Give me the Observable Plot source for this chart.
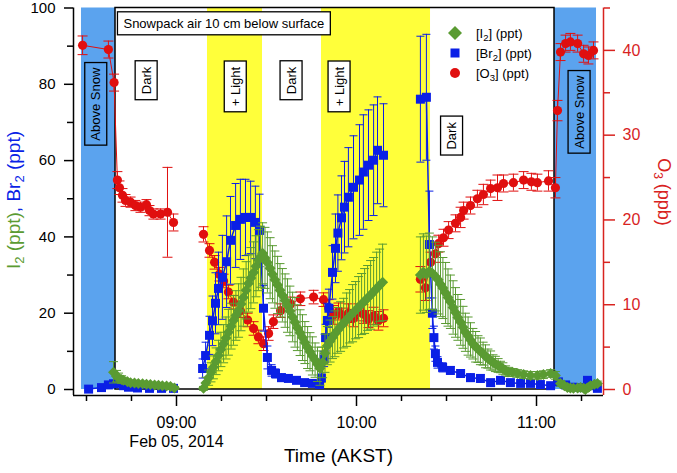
<!DOCTYPE html>
<html>
<head>
<meta charset="utf-8">
<script src="https://cdn.jsdelivr.net/npm/d3@7"></script>
<script src="https://cdn.jsdelivr.net/npm/@observablehq/plot@0.6"></script>
<style>
html,body{margin:0;padding:0;background:#fff;overflow:hidden;}
#chart svg{display:block;}
</style>
</head>
<body>
<div id="chart"></div>
<script>
// ---------- DATA (time = minutes after 09:00 AKST, Feb 05 2014; null = gap) ----------
const o3Min = [-31.3,-22.7,-20.8,-19.7,-19.0,-18.0,-17.0,-15.3,-13.7,-12.0,-10.0,-9.0,-7.7,-5.3,-3.0,-1.0, 4,
  9.0,11.0,12.7,14.3,15.7,17.3,19.0,21.3,23.7,25.7,27.3,29.0,30.7,32.3,34.7,38.0,41.3,45.7,49.0,
  50.7,52.3,54.0,55.7,57.3,59.0,60.7,62.3,64.0,65.7,67.3,69.0, 75,
  81.3,83.0,84.7,86.3,87.3,89.0,90.7,93.0,94.7,95.7,98.0,100.3,102.3,104.7,107.0,109.0,112.3,115.7,118.3,120.3,124.0,126.3,
  127.0,128.0,129.7,131.3,133.7,135.7,137.3,139.0];
const o3Ppb = [40.6,40.1,36.2,24.7,23.8,22.9,22.3,22.1,21.7,21.5,21.8,21.1,20.7,20.7,20.9,19.7, null,
  18.3,16.4,15.0,13.6,12.8,11.5,10.3,9.3,8.2,7.2,6.2,5.4,6.6,8.0,9.3,10.1,10.7,10.9,10.6,
  9.6,8.8,9.2,8.6,9.0,8.4,9.1,8.9,8.3,8.7,8.1,8.4, null,
  13.0,12.0,15.0,16.0,17.2,17.9,18.8,19.6,20.3,21.1,21.7,22.5,23.0,23.7,23.8,24.3,24.4,24.7,24.5,24.4,24.6,23.8,
  32.9,39.8,40.8,41.0,40.8,39.6,39.4,40.0];
const o3Err = [1.1,1.0,1.0,1.0,0.8,0.8,0.7,0.6,0.6,0.6,0.6,0.6,0.6,0.6,5.3,1.0, null,
  0.9,0.8,0.8,0.8,0.8,0.8,0.8,0.8,0.8,0.8,0.8,0.8,0.8,0.8,0.8,0.8,0.8,0.8,0.8,
  1.0,1.1,1.0,1.0,1.1,1.0,1.0,1.1,1.0,1.0,1.1,1.0, null,
  1.5,1.5,1.2,1.0,1.0,1.0,1.0,1.0,1.2,1.0,1.0,1.0,1.2,1.0,1.5,1.0,1.0,1.0,1.0,1.0,1.2,1.2,
  1.2,1.0,1.0,1.0,1.0,1.0,1.0,1.0];

const br2Min = [-29.3,-25.0,-22.7,-21.0,-19.3,-17.7,-16.0,-13.0,-9.0,-5.0,-1.0, 4,
  8.7,9.7,11.0,12.0,13.0,14.0,15.3,16.7,18.0,19.7,21.3,23.0,24.7,26.3,27.7,29.0,30.3,31.7,33.0,35.0,37.3,40.0,42.7,45.3,47.7,
  48.3,49.2,49.7,50.3,50.8,52.0,53.0,53.8,55.0,56.0,57.3,59.0,61.0,62.3,64.0,65.7,67.0,69.0, 75,
  81.3,83.3,84.3,85.3,85.8,86.3,87.0,88.7,91.3,94.7,98.0,101.3,104.7,108.0,111.3,114.7,118.0,121.3,124.7,127.3,
  129.7,132.0,134.7,137.0,139.0,140.3];
const br2Ppt = [0.1,0.5,1.2,1.5,1.6,1.0,0.6,0.4,0.3,0.3,0.3, null,
  5.5,8.9,14.2,18.0,22.6,26.5,29.4,33.5,39.1,43.0,44.6,45.1,45.1,43.8,41.7,21.3,8.4,5.0,4.2,3.1,2.9,2.4,1.8,1.6,1.3,
  3.0,8.0,13.6,18.1,21.3,30.7,37.0,41.0,45.0,47.8,50.4,53.0,54.9,57.0,58.8,60.1,62.7,61.4, null,
  76.1,76.6,38.0,20.0,13.6,9.4,7.1,5.8,5.0,4.2,3.1,2.9,1.8,2.4,1.8,1.6,1.6,1.3,1.0,2.0,
  1.2,0.6,0.5,2.4,1.0,0.3];
const br2Err = [0.3,0.3,0.5,0.5,0.5,0.4,0.3,0.3,0.3,0.3,0.3, null,
  2.5,3.5,5,6.5,8,9.5,11,12,11.5,11,10.5,10,9.5,9.5,9.5,6,3,1.5,1.2,1,0.8,0.8,0.6,0.5,0.5,
  1,2,3.5,4.5,5,7,9,10,11,12,13,13.5,14.5,15,14.5,14.5,14,13.5, null,
  16.5,16.5,14,4,3,2,1.5,1.2,1,1,1,1,0.8,0.8,0.8,0.6,0.6,0.6,0.6,0.6,
  0.5,0.5,0.5,0.6,0.5,0.4];

const i2Min = [-21.0,-20.0,-19.3,-18.3,-17.7,-16.3,-15.3,-14.0,-12.7,-11.3,-10.0,-8.7,-7.3,-6.0,-4.7,-3.3,-2.0,-0.7, 4,
  9.0,9.8,10.7,11.5,12.3,13.2,14.0,14.8,15.7,16.5,17.3,18.2,19.0,19.8,20.7,21.5,22.3,23.2,24.0,24.8,25.7,26.5,27.3,28.0,28.7,
  29.5,30.3,31.2,32.0,32.8,33.7,34.5,35.3,36.2,37.0,37.8,38.7,39.5,40.3,41.2,42.0,42.8,43.7,44.5,45.3,46.2,47.0,47.8,
  48.7,49.5,50.3,51.2,52.0,52.8,53.7,54.7,55.7,56.7,57.7,58.7,59.7,60.7,61.7,62.7,63.7,64.7,65.7,66.7,67.7,68.7, 75,
  81.3,82.3,83.3,84.3,85.3,86.3,87.2,88.0,88.8,89.7,90.5,91.3,92.2,93.0,93.8,94.7,95.5,96.3,97.2,98.0,
  98.8,99.7,100.5,101.3,102.2,103.0,103.8,104.7,105.5,106.3,107.2,108.0,108.8,109.7,110.5,112.0,113.7,115.7,118.0,120.3,
  122.3,124.7,126.3,
  128.0,129.3,130.3,131.3,132.3,133.7,134.7,135.7,136.3,137.3,138.0,139.3,140.3];
const i2Ppt = [4.5,3.5,3.1,2.6,2.4,2.0,1.8,1.7,1.6,1.5,1.4,1.3,1.2,1.1,1.0,0.9,0.8,0.4, null,
  0.3,1.7,3.1,4.5,5.8,7.4,8.9,10.5,12.0,13.5,15.0,16.6,18.1,19.4,20.7,22.4,24.1,26.0,27.8,29.2,30.7,32.3,33.9,34.8,35.7,
  34.5,33.3,31.8,30.2,28.8,27.4,26.0,24.7,23.3,22.0,20.6,19.0,17.6,16.2,14.9,13.6,12.3,11.0,9.9,8.8,7.7,6.6,5.6,
  7.1,9.5,11.5,12.7,13.6,14.6,15.5,16.5,17.4,18.3,19.2,20.0,20.8,21.6,22.4,23.2,24.0,24.8,25.6,26.5,27.3,28.1, null,
  30.0,30.8,30.2,31.0,30.5,29.6,28.8,27.6,26.6,25.3,24.1,23.0,21.5,20.2,18.9,17.6,16.3,15.0,14.0,13.0,
  12.0,11.2,10.6,10.0,9.4,8.7,8.1,7.6,7.1,6.7,6.3,5.9,5.5,5.0,4.6,4.5,4.2,3.9,3.7,3.7,
  3.9,4.2,3.7,
  1.6,1.0,0.5,0.4,0.3,0.4,0.5,0.3,0.0,0.6,1.0,1.4,1.6];
const i2Err = [2.8,1.5,1.2,1.0,0.8,0.6,0.6,0.5,0.5,0.5,0.5,0.4,0.4,0.4,0.4,0.4,0.4,0.4, null,
  0.5,1.5,2,2.5,3,3.5,4,4.5,5,5.5,6,6,6.5,6.5,7,7,7.5,7.5,7.5,8,8,8,8,8,8,
  8,8,8,7.5,7.5,7.5,7,7,7,7,6.5,6.5,6.5,6,6,6,5.5,5.5,5,5,4.5,4.5,4.5,
  4,5,5,5.5,5.5,6,6,6.5,6.5,7,7,7.5,7.5,8,8,8.5,8.5,9,9,9.5,9.5,10, null,
  10,10,10,10,9.5,9,9,8.5,8,8,7.5,7,7,6.5,6,6,5.5,5,5,4.5,
  4,4,3.5,3.5,3,3,2.5,2.5,2,2,1.8,1.5,1.5,1.2,1.2,1,1,1,1,1,
  1,1,1,
  0.8,0.6,0.5,0.5,0.5,0.5,0.5,0.5,0.5,0.5,0.5,0.6,0.6];

// shaded periods (minutes after 09:00)
const snowStart = [-31.67, 126.0];
const snowEnd = [-20.33, 140.0];
const lightStart = [10.33, 48.33];
const lightEnd = [28.67, 84.67];
const boxStart = -20.33, boxEnd = 126.0;

// annotations
const labelText = ["Above Snow","Dark","+ Light","Dark","+ Light","Dark","Above Snow"];
const labelMin = [-26.8,-10.0,19.7,38.3,54.3,91.8,134.3];
const labelVal = [74.8,81.0,79.4,81.0,79.4,66.5,72.7];
const titleText = "Snowpack air 10 cm below surface";
const titleMin = 15.8, titleVal = 95.9;

// axis ticks
const leftMajor = [0,20,40,60,80,100], leftMinor = [10,30,50,70,90];
const rightMajor = [0,10,20,30,40], rightMinor = [5,15,25,35,45];
const xMajorMin = [0,60,120], xMinorMin = [-30,-15,15,30,45,75,90,105,135];

// ---------- BUILD ----------
const GREEN = "#5a9b32", BLUE = "#0a1fe6", RED = "#e00f0f", AXRED = "#d8231f";
const YELLOW = "#ffff3a", SNOW = "#5ba3ee";
const FONT = "'Liberation Sans', Arial, sans-serif";
const K = 100 / 45; // O3 ppb -> left axis units
const T0 = Date.UTC(2014, 1, 5, 9, 0, 0);
const toDate = m => new Date(T0 + m * 60000);
const xDomain = [toDate(-34.33), toDate(142.33)];
const yLo = -6 / 3.815;

function series(mins, vals, errs, k) {
  return mins.map((m, i) => {
    const v = vals[i];
    const ok = v !== null && v !== undefined;
    const e = errs[i] == null ? 0 : errs[i];
    return {t: toDate(m), v: ok ? v * k : NaN, lo: ok ? (v - e) * k : NaN, hi: ok ? (v + e) * k : NaN, ok};
  });
}
const o3 = series(o3Min, o3Ppb, o3Err, K);
const br2 = series(br2Min, br2Ppt, br2Err, 1);
const i2 = series(i2Min, i2Ppt, i2Err, 1);

const cap = hw => ({draw(ctx) { ctx.moveTo(-hw, 0); ctx.lineTo(hw, 0); }});
const diamond = hw => ({draw(ctx) { ctx.moveTo(0, -hw); ctx.lineTo(hw, 0); ctx.lineTo(0, hw); ctx.lineTo(-hw, 0); ctx.closePath(); }});
const square = hw => ({draw(ctx) { ctx.rect(-hw, -hw, 2 * hw, 2 * hw); }});
const disc = r => ({draw(ctx) { ctx.moveTo(r, 0); ctx.arc(0, 0, r, 0, 2 * Math.PI); ctx.closePath(); }});

function seriesMarks(rows, color, sym, capHw, lineW) {
  const ok = rows.filter(d => d.ok);
  return [
    Plot.ruleX(ok, {x: "t", y1: "lo", y2: "hi", stroke: color, strokeWidth: 1}),
    Plot.dot(ok, {x: "t", y: "lo", symbol: cap(capHw), stroke: color, fill: "none", strokeWidth: 1}),
    Plot.dot(ok, {x: "t", y: "hi", symbol: cap(capHw), stroke: color, fill: "none", strokeWidth: 1}),
    Plot.line(rows, {x: "t", y: "v", stroke: color, strokeWidth: lineW}),
    Plot.dot(ok, {x: "t", y: "v", symbol: sym, fill: color, stroke: "none"})
  ];
}

const bandSnow = snowStart.map((s, i) => ({a: toDate(s), b: toDate(snowEnd[i])}));
const bandLight = lightStart.map((s, i) => ({a: toDate(s), b: toDate(lightEnd[i])}));
const labels = labelText.map((s, i) => ({text: s, t: toDate(labelMin[i]), v: labelVal[i]}));

const plot = Plot.plot({
  width: 677, height: 473,
  marginLeft: 73, marginRight: 74, marginTop: 7.5, marginBottom: 78,
  x: {type: "utc", domain: xDomain},
  y: {domain: [yLo, 100]},
  style: {fontFamily: FONT, background: "white", color: "black", overflow: "visible"},
  marks: [
    Plot.rect(bandSnow, {x1: "a", x2: "b", y1: 0, y2: 100, fill: SNOW}),
    Plot.rect(bandLight, {x1: "a", x2: "b", y1: 0, y2: 100, fill: YELLOW}),
    Plot.rect([0], {x1: () => toDate(boxStart), x2: () => toDate(boxEnd), y1: 0, y2: 100, fill: "none", stroke: "black", strokeWidth: 1.5}),
    ...seriesMarks(o3, RED, disc(4.6), 5, 1),
    ...seriesMarks(br2, BLUE, square(4.5), 4, 1.5),
    ...seriesMarks(i2, GREEN, diamond(5.5), 4.5, 1.5),
    Plot.text(labels, {x: "t", y: "v", text: "text", rotate: -90, fontSize: 13, fill: "black"}),
    Plot.text([titleText], {x: () => toDate(titleMin), y: () => titleVal, text: d => d, fontSize: 13, fill: "black"}),
    // axis lines
    Plot.ruleX([0], {x: () => xDomain[0], y1: yLo, y2: 100, stroke: "black", strokeWidth: 1.5}),
    Plot.ruleY([0], {y: () => yLo, x1: () => xDomain[0], x2: () => xDomain[1], stroke: "black", strokeWidth: 1.5}),
    Plot.ruleX([0], {x: () => xDomain[1], y1: yLo, y2: 100, stroke: AXRED, strokeWidth: 1.5}),
    // axes
    Plot.axisY(leftMajor, {anchor: "left", tickSize: 9, tickPadding: 9, fontSize: 15, strokeWidth: 1.5, label: null}),
    Plot.axisY(leftMinor, {anchor: "left", tickSize: 6, tickFormat: () => "", strokeWidth: 1.5, label: null}),
    Plot.axisY(rightMajor.map(v => v * K), {anchor: "right", tickSize: 11, tickPadding: 8, fontSize: 16, color: AXRED, strokeWidth: 1.5, tickFormat: d => String(Math.round(d / K)), label: null}),
    Plot.axisY(rightMinor.map(v => v * K), {anchor: "right", tickSize: 6, tickFormat: () => "", color: AXRED, strokeWidth: 1.5, label: null}),
    Plot.axisX(xMajorMin.map(toDate), {anchor: "bottom", tickSize: 11, tickPadding: 10, fontSize: 16, strokeWidth: 1.5, tickFormat: d3.utcFormat("%H:%M"), label: null}),
    Plot.axisX(xMinorMin.map(toDate), {anchor: "bottom", tickSize: 6, tickFormat: () => "", strokeWidth: 1.5, label: null}),
    Plot.text(["Feb 05, 2014"], {x: () => toDate(0), frameAnchor: "bottom", dy: 51, fontSize: 16, text: d => d, fill: "black"}),
    Plot.text(["Time (AKST)"], {frameAnchor: "bottom", dy: 66, fontSize: 19, text: d => d, fill: "black"})
  ]
});

document.getElementById("chart").append(plot);
const svg = d3.select(plot);
const NS = "http://www.w3.org/2000/svg";

// boxes behind annotation texts
function boxify(match, fill, padA, padC) {
  svg.selectAll("text").filter(function() { return match(this.textContent); }).each(function() {
    const bb = this.getBBox();
    const r = document.createElementNS(NS, "rect");
    r.setAttribute("x", bb.x - padA);
    r.setAttribute("y", bb.y - padC);
    r.setAttribute("width", bb.width + 2 * padA);
    r.setAttribute("height", bb.height + 2 * padC);
    r.setAttribute("fill", fill);
    r.setAttribute("stroke", "black");
    r.setAttribute("stroke-width", 1.3);
    const tr = this.getAttribute("transform");
    if (tr) r.setAttribute("transform", tr);
    this.parentNode.insertBefore(r, this);
  });
}
boxify(s => s === "Dark" || s === "+ Light", "white", 5.5, 3.5);
boxify(s => s === "Above Snow", "none", 4.5, 3.5);
boxify(s => s === titleText, "white", 6, 4);

// axis titles
const yl = svg.append("text").attr("transform", "translate(20,200) rotate(-90)")
  .attr("text-anchor", "middle").attr("font-size", 19).attr("font-family", FONT);
yl.append("tspan").attr("fill", GREEN).text("I");
yl.append("tspan").attr("fill", GREEN).attr("font-size", 13).attr("dy", 4).text("2");
yl.append("tspan").attr("fill", GREEN).attr("dy", -4).text(" (ppt)");
yl.append("tspan").attr("fill", BLUE).text(", Br");
yl.append("tspan").attr("fill", BLUE).attr("font-size", 13).attr("dy", 4).text("2");
yl.append("tspan").attr("fill", BLUE).attr("dy", -4).text(" (ppt)");

const yr = svg.append("text").attr("transform", "translate(658,192) rotate(90)")
  .attr("text-anchor", "middle").attr("font-size", 18).attr("font-family", FONT).attr("fill", AXRED);
yr.append("tspan").text("O");
yr.append("tspan").attr("font-size", 12).attr("dy", 4).text("3");
yr.append("tspan").attr("dy", -4).text(" (ppb)");

// legend
const legendNames = [["[I", "2", "] (ppt)"], ["[Br", "2", "] (ppt)"], ["[O", "3", "] (ppt)"]];
const legendColors = [GREEN, BLUE, RED];
const leg = svg.append("g").attr("font-family", FONT).attr("font-size", 13).attr("text-anchor", "start");
legendNames.forEach((parts, i) => {
  const cy = 33 + 20 * i;
  const g = leg.append("g").attr("transform", `translate(455,${cy})`);
  if (i === 0) g.append("path").attr("d", "M0,-7L7,0L0,7L-7,0Z").attr("fill", legendColors[i]);
  if (i === 1) g.append("rect").attr("x", -4.5).attr("y", -4.5).attr("width", 9).attr("height", 9).attr("fill", legendColors[i]);
  if (i === 2) g.append("circle").attr("r", 5).attr("fill", legendColors[i]);
  const t = leg.append("text").attr("x", 476).attr("y", cy + 4.5).attr("fill", "black").attr("text-anchor", "start");
  t.append("tspan").text(parts[0]);
  t.append("tspan").attr("font-size", 9.5).attr("dy", 3).text(parts[1]);
  t.append("tspan").attr("dy", -3).text(parts[2]);
});
</script>
</body>
</html>
